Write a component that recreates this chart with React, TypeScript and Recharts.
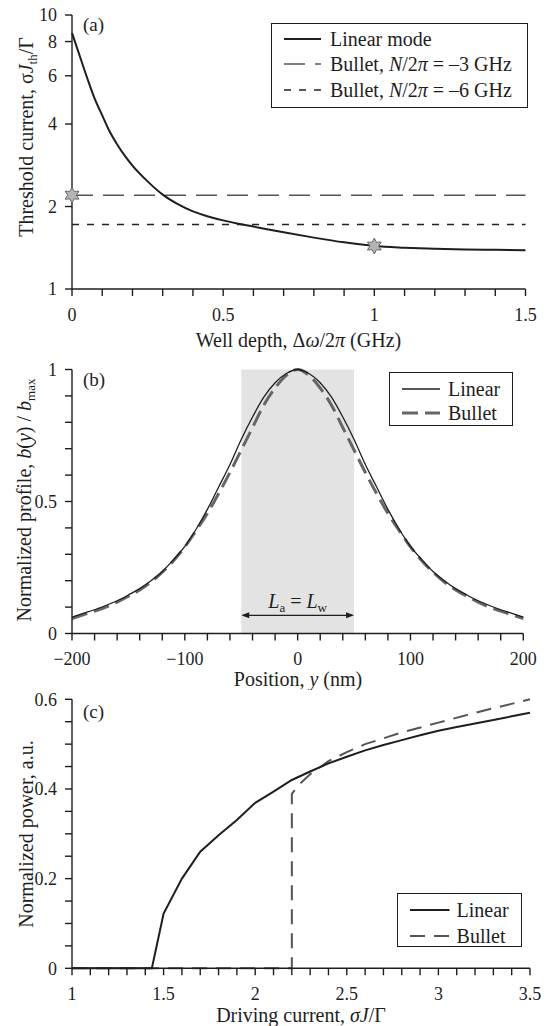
import React from "react";
import { LineChart, Line, XAxis, YAxis, ReferenceArea, ReferenceLine, ReferenceDot, Legend } from "recharts";

const FONT = "'Liberation Serif', 'Times New Roman', serif";
const INK = "#1e1e1e";

// (a) threshold current vs well depth
const depthX = [0, 0.02, 0.05, 0.075, 0.1, 0.125, 0.15, 0.175, 0.2, 0.25, 0.3, 0.35, 0.4, 0.45, 0.5, 0.55, 0.6, 0.7, 0.8, 0.9, 1.0, 1.1, 1.2, 1.3, 1.4, 1.5];
const linearThreshold = [8.6, 7.4, 5.9, 4.95, 4.3, 3.75, 3.36, 3.06, 2.82, 2.47, 2.21, 2.04, 1.92, 1.84, 1.78, 1.73, 1.69, 1.61, 1.54, 1.48, 1.435, 1.415, 1.402, 1.395, 1.39, 1.385];
const bulletSpanX = [0, 1.5];
const bullet3GHz = [2.2, 2.2];
const bullet6GHz = [1.72, 1.72];
const starX = [0, 1];
const starY = [2.2, 1.435];
const depthTicks = [0, 0.1, 0.2, 0.3, 0.4, 0.5, 0.6, 0.7, 0.8, 0.9, 1, 1.1, 1.2, 1.3, 1.4, 1.5];
const depthLabels = [0, 0.5, 1, 1.5];
const thresholdTicks = [1, 2, 4, 6, 8, 10];

// (b) normalized profile vs position
const positionX = [-200, -190, -180, -170, -160, -150, -140, -130, -120, -110, -100, -90, -80, -70, -60, -50, -40, -30, -20, -10, 0, 10, 20, 30, 40, 50, 60, 70, 80, 90, 100, 110, 120, 130, 140, 150, 160, 170, 180, 190, 200];
const linearProfile = [0.062, 0.076, 0.09, 0.106, 0.124, 0.146, 0.17, 0.2, 0.235, 0.28, 0.33, 0.395, 0.47, 0.555, 0.64, 0.735, 0.82, 0.895, 0.95, 0.985, 1.0, 0.985, 0.95, 0.895, 0.82, 0.735, 0.64, 0.555, 0.47, 0.395, 0.33, 0.28, 0.235, 0.2, 0.17, 0.146, 0.124, 0.106, 0.09, 0.076, 0.062];
const bulletProfile = [0.057, 0.071, 0.085, 0.1, 0.119, 0.141, 0.165, 0.195, 0.232, 0.276, 0.328, 0.39, 0.455, 0.53, 0.61, 0.695, 0.78, 0.865, 0.93, 0.978, 1.0, 0.978, 0.93, 0.865, 0.78, 0.695, 0.61, 0.53, 0.455, 0.39, 0.328, 0.276, 0.232, 0.195, 0.165, 0.141, 0.119, 0.1, 0.085, 0.071, 0.057];
const wellEdges = [-50, 50];
const arrowLevel = 0.069;
const positionTicks = [-200, -180, -160, -140, -120, -100, -80, -60, -40, -20, 0, 20, 40, 60, 80, 100, 120, 140, 160, 180, 200];
const positionLabels = [-200, -100, 0, 100, 200];
const profileTicks = [0, 0.1, 0.2, 0.3, 0.4, 0.5, 0.6, 0.7, 0.8, 0.9, 1];
const profileLabels = [0, 0.5, 1];

// (c) normalized power vs driving current
const linearDriveX = [1, 1.436, 1.5, 1.6, 1.7, 1.8, 1.9, 2.0, 2.1, 2.2, 2.3, 2.4, 2.5, 2.6, 2.7, 2.8, 2.9, 3.0, 3.1, 3.2, 3.3, 3.4, 3.5];
const linearPower = [0, 0, 0.122, 0.2, 0.26, 0.297, 0.331, 0.369, 0.394, 0.42, 0.439, 0.457, 0.472, 0.486, 0.498, 0.509, 0.52, 0.53, 0.538, 0.546, 0.554, 0.562, 0.57];
const bulletDriveX = [1, 2.2, 2.2, 2.24, 2.3, 2.4, 2.5, 2.6, 2.8, 3.0, 3.25, 3.5];
const bulletPower = [0, 0, 0.389, 0.41, 0.433, 0.462, 0.482, 0.5, 0.526, 0.548, 0.575, 0.6];
const driveTicks = [1, 1.1, 1.2, 1.3, 1.4, 1.5, 1.6, 1.7, 1.8, 1.9, 2, 2.1, 2.2, 2.3, 2.4, 2.5, 2.6, 2.7, 2.8, 2.9, 3, 3.1, 3.2, 3.3, 3.4, 3.5];
const driveLabels = [1, 1.5, 2, 2.5, 3, 3.5];
const powerTicks = [0, 0.05, 0.1, 0.15, 0.2, 0.25, 0.3, 0.35, 0.4, 0.45, 0.5, 0.55, 0.6];
const powerLabels = [0, 0.2, 0.4, 0.6];

const zip = (xs: number[], ys: number[]) => xs.map((x, i) => ({ x, y: ys[i] }));
const pick = (labels: number[], minus = false) => (v: number) => {
  if (!labels.some(l => Math.abs(l - v) < 1e-6)) return "";
  return v < 0 && minus ? "\u2212" + Math.abs(v) : String(v);
};

const tickStyle = { fontSize: 18, fill: INK, fontFamily: FONT };
const axisProps = {
  axisLine: { stroke: INK, strokeWidth: 1.4 },
  tickLine: { stroke: INK, strokeWidth: 1.4 },
  tick: tickStyle,
  tickSize: 7,
  interval: 0 as const,
};

function starPath(cx: number, cy: number) {
  const pts: string[] = [];
  for (let i = 0; i < 12; i++) {
    const r = i % 2 === 0 ? 8 : 4.3;
    const a = (Math.PI / 6) * i - Math.PI / 2;
    pts.push(`${(cx + r * Math.cos(a)).toFixed(2)},${(cy + r * Math.sin(a)).toFixed(2)}`);
  }
  return "M" + pts.join("L") + "Z";
}
const Star = (p: any) => <path d={starPath(p.cx, p.cy)} fill="#b4b4b4" stroke="#6a6a6a" strokeWidth={1} />;

type Entry = { label: React.ReactNode; stroke: string; dash?: string; width: number };
function legendBox(entries: Entry[], rowTop: number, rowGap: number, sampleX: number, sampleW: number, textX: number) {
  return () => (
    <div style={{ position: "relative", width: "100%", height: "100%", boxSizing: "border-box", border: `1.4px solid ${INK}`, background: "#fff", fontFamily: FONT, fontSize: 20, color: INK }}>
      {entries.map((e, i) => (
        <div key={i} style={{ position: "absolute", left: 0, top: rowTop + i * rowGap - 12, height: 24, width: "100%" }}>
          <svg width={sampleW} height={24} style={{ position: "absolute", left: sampleX, top: 0 }}>
            <line x1={0} y1={12} x2={sampleW} y2={12} stroke={e.stroke} strokeWidth={e.width} strokeDasharray={e.dash} />
          </svg>
          <span style={{ position: "absolute", left: textX, top: 0, lineHeight: "24px", whiteSpace: "nowrap" }}>{e.label}</span>
        </div>
      ))}
    </div>
  );
}

const yTitle = (x: number, y: number, children: React.ReactNode, tag: string, tagY: number) => () => (
  <g fontFamily={FONT} fill={INK}>
    <text x={x} y={y} transform={`rotate(-90 ${x} ${y})`} textAnchor="middle" fontSize={20}>{children}</text>
    <text x={83} y={tagY} fontSize={19}>{tag}</text>
  </g>
);
const xTitle = (x: number, y: number, children: React.ReactNode) => () => (
  <text x={x} y={y} textAnchor="middle" fontSize={20} fontFamily={FONT} fill={INK}>{children}</text>
);

const Arrow = (p: any) => {
  const { x1, y1, x2, y2 } = p;
  const mid = (x1 + x2) / 2;
  return (
    <g>
      <line x1={x1 + 2} y1={y1} x2={x2 - 2} y2={y2} stroke={INK} strokeWidth={1.2} />
      <path d={`M${x1},${y1}L${x1 + 8},${y1 - 3}L${x1 + 8},${y1 + 3}Z`} fill={INK} />
      <path d={`M${x2},${y2}L${x2 - 8},${y2 - 3}L${x2 - 8},${y2 + 3}Z`} fill={INK} />
      <text x={mid} y={y1 - 7.5} textAnchor="middle" fontSize={20} fontFamily={FONT} fill={INK}>
        <tspan fontStyle="italic">L</tspan><tspan fontSize={13} dy={4}>a</tspan><tspan dy={-4}> = </tspan>
        <tspan fontStyle="italic">L</tspan><tspan fontSize={13} dy={4}>w</tspan>
      </text>
    </g>
  );
};

export default function App() {
  const legendA = legendBox([
    { label: "Linear mode", stroke: INK, width: 2 },
    { label: <>Bullet, <i>N</i>/2<i>π</i> = –3 GHz</>, stroke: "#555", dash: "21 10", width: 1.6 },
    { label: <>Bullet, <i>N</i>/2<i>π</i> = –6 GHz</>, stroke: "#222", dash: "7 8", width: 1.6 },
  ], 15, 25.8, 11.5, 37.5, 58);
  const legendB = legendBox([
    { label: "Linear", stroke: INK, width: 1.3 },
    { label: "Bullet", stroke: "#666", dash: "16 7", width: 3 },
  ], 15.6, 24.4, 12, 38, 58);
  const legendC = legendBox([
    { label: "Linear", stroke: INK, width: 2 },
    { label: "Bullet", stroke: "#555", dash: "15 9", width: 2 },
  ], 16, 25.7, 12, 39.5, 58.3);

  return (
    <div style={{ position: "absolute", left: 0, top: 0, width: 548, height: 1026, background: "#fff", fontFamily: FONT }}>
      <LineChart width={548} height={354} margin={{ top: 15, right: 22.5, bottom: 25, left: 0 }}>
        <XAxis type="number" dataKey="x" domain={[0, 1.5]} ticks={depthTicks} tickFormatter={pick(depthLabels)} height={40} tickMargin={12} {...axisProps}
          label={xTitle(298.5, 347, <>Well depth, Δ<tspan fontStyle="italic">ω</tspan>/2<tspan fontStyle="italic">π</tspan> (GHz)</>)} />
        <YAxis type="number" scale="log" domain={[1, 10]} allowDataOverflow ticks={thresholdTicks} width={72} tickMargin={8} {...axisProps}
          label={yTitle(33, 137, <>Threshold current, σ<tspan fontStyle="italic">J</tspan><tspan fontSize={13} dy={4}>th</tspan><tspan dy={-4}>/Γ</tspan></>, "(a)", 31)} />
        <Line data={zip(bulletSpanX, bullet3GHz)} dataKey="y" stroke="#555" strokeWidth={1.6} strokeDasharray="21 10" dot={false} isAnimationActive={false} name="Bullet -3 GHz" />
        <Line data={zip(bulletSpanX, bullet6GHz)} dataKey="y" stroke="#222" strokeWidth={1.6} strokeDasharray="7 8" dot={false} isAnimationActive={false} name="Bullet -6 GHz" />
        <Line data={zip(depthX, linearThreshold)} dataKey="y" type="monotone" stroke={INK} strokeWidth={2} dot={false} isAnimationActive={false} name="Linear mode" />
        {starX.map((x, i) => <ReferenceDot key={i} x={x} y={starY[i]} r={7} shape={Star} ifOverflow="visible" />)}
        <Legend layout="vertical" align="center" verticalAlign="middle" wrapperStyle={{ left: 271, top: 22.7, width: 257, height: 85 }} content={legendA} />
      </LineChart>

      <LineChart width={548} height={336} margin={{ top: 15.5, right: 24.7, bottom: 16.5, left: 0 }}>
        <ReferenceArea x1={wellEdges[0]} x2={wellEdges[1]} y1={0} y2={1} fill="#e3e3e3" fillOpacity={1} stroke="none" />
        <XAxis type="number" dataKey="x" domain={[-200, 200]} ticks={positionTicks} tickFormatter={pick(positionLabels, true)} height={40} tickMargin={12} {...axisProps}
          label={xTitle(298, 332, <>Position, <tspan fontStyle="italic">y</tspan> (nm)</>)} />
        <YAxis type="number" domain={[0, 1]} ticks={profileTicks} tickFormatter={pick(profileLabels)} width={72} tickMargin={8} {...axisProps}
          label={yTitle(31, 146, <>Normalized profile, <tspan fontStyle="italic">b</tspan>(<tspan fontStyle="italic">y</tspan>) / <tspan fontStyle="italic">b</tspan><tspan fontSize={13} dy={4}>max</tspan></>, "(b)", 32)} />
        <Line data={zip(positionX, bulletProfile)} dataKey="y" type="monotone" stroke="#666" strokeWidth={3} strokeDasharray="16 7" dot={false} isAnimationActive={false} name="Bullet" />
        <Line data={zip(positionX, linearProfile)} dataKey="y" type="monotone" stroke={INK} strokeWidth={1.3} dot={false} isAnimationActive={false} name="Linear" />
        <ReferenceLine segment={[{ x: wellEdges[0], y: arrowLevel }, { x: wellEdges[1], y: arrowLevel }]} shape={Arrow} />
        <Legend layout="vertical" align="center" verticalAlign="middle" wrapperStyle={{ left: 389, top: 18.2, width: 124, height: 54 }} content={legendB} />
      </LineChart>

      <LineChart width={548} height={336} margin={{ top: 9.3, right: 18, bottom: 17.7, left: 0 }}>
        <XAxis type="number" dataKey="x" domain={[1, 3.5]} ticks={driveTicks} tickFormatter={pick(driveLabels)} height={40} tickMargin={12} {...axisProps}
          label={xTitle(301, 331.5, <>Driving current, <tspan fontStyle="italic">σJ</tspan>/Γ</>)} />
        <YAxis type="number" domain={[0, 0.6]} ticks={powerTicks} tickFormatter={pick(powerLabels)} width={72} tickMargin={8} {...axisProps}
          label={yTitle(33, 144, <>Normalized power, a.u.</>, "(c)", 28)} />
        <Line data={zip(bulletDriveX, bulletPower)} dataKey="y" stroke="#555" strokeWidth={2} strokeDasharray="15 9" dot={false} isAnimationActive={false} name="Bullet" />
        <Line data={zip(linearDriveX, linearPower)} dataKey="y" stroke={INK} strokeWidth={2} dot={false} isAnimationActive={false} name="Linear" />
        <Legend layout="vertical" align="center" verticalAlign="middle" wrapperStyle={{ left: 397.3, top: 203.3, width: 124.7, height: 53.3 }} content={legendC} />
      </LineChart>
    </div>
  );
}
